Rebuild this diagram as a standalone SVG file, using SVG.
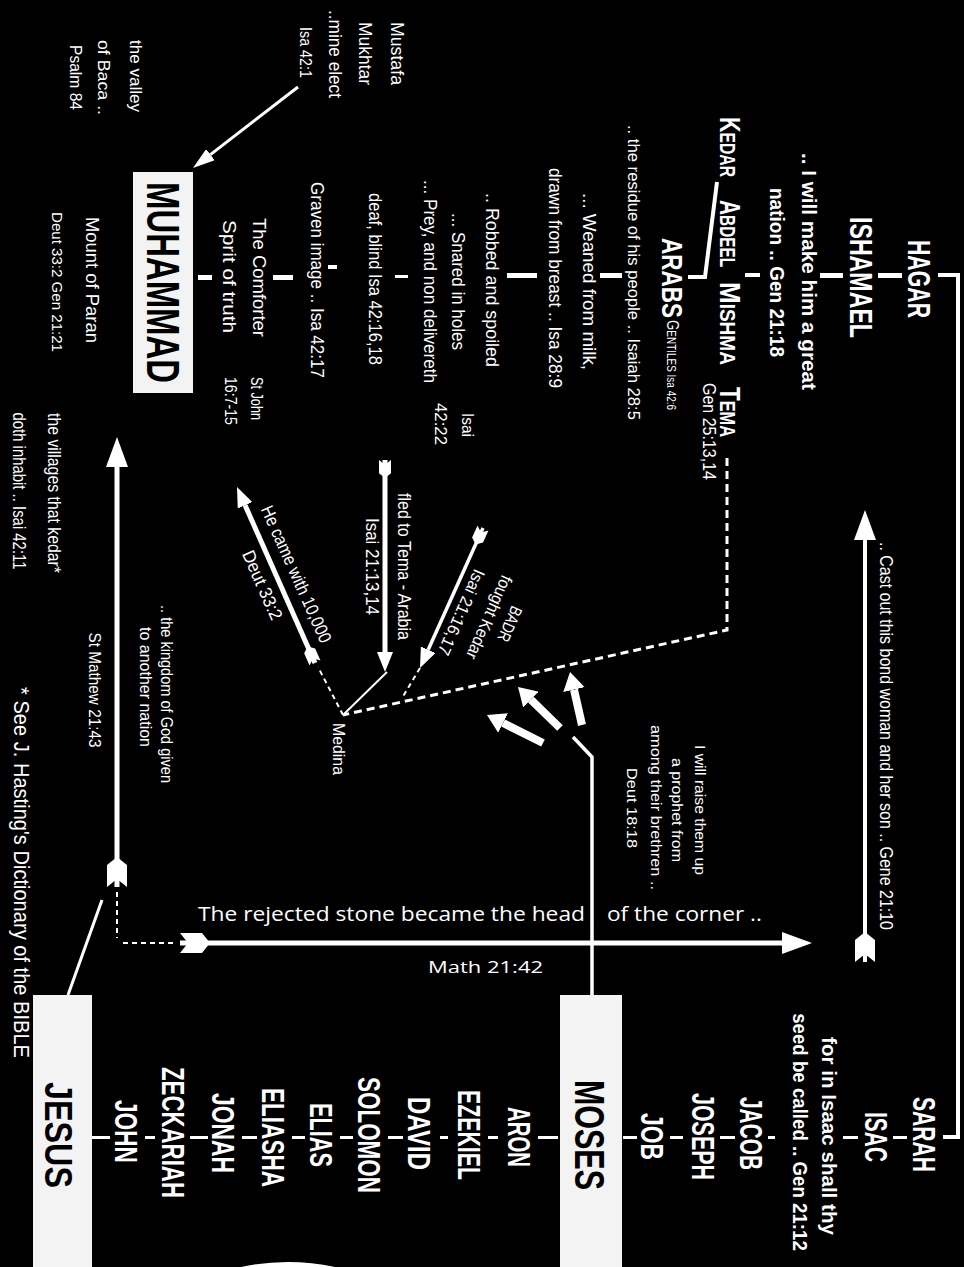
<svg xmlns="http://www.w3.org/2000/svg" width="964" height="1267" viewBox="0 0 964 1267">
<style>
text{font-family:"Liberation Sans",Arial,sans-serif;fill:#fff;text-anchor:middle}
.bd{font-weight:bold}
.nm{font-weight:bold;font-size:32px}
.bx{font-weight:bold;fill:#000}
.hz{font-family:"Open Sans","DejaVu Sans",sans-serif;text-anchor:start}
.ln{stroke:#fff;fill:none}
.dash{stroke:#fff;fill:none;stroke-width:3;stroke-dasharray:8 5}
.dsm{stroke:#fff;fill:none;stroke-width:2;stroke-dasharray:5 4}
.tick{fill:#fff}
.box{fill:#f3f3f3}
</style>
<defs>
<marker id="hb" viewBox="0 0 30 22" refX="0" refY="11" markerWidth="30" markerHeight="22" markerUnits="userSpaceOnUse" orient="auto"><path d="M0,0 L30,11 L0,22 Z" fill="#fff"/></marker>
<marker id="hs" viewBox="0 0 20 16" refX="0" refY="8" markerWidth="20" markerHeight="16" markerUnits="userSpaceOnUse" orient="auto"><path d="M0,0 L20,8 L0,16 Z" fill="#fff"/></marker>
<marker id="hf" viewBox="0 0 18 22" refX="0" refY="11" markerWidth="18" markerHeight="22" markerUnits="userSpaceOnUse" orient="auto"><path d="M0,0 L18,11 L0,22 Z" fill="#fff"/></marker>
<marker id="hm" viewBox="0 0 22 14" refX="0" refY="7" markerWidth="22" markerHeight="14" markerUnits="userSpaceOnUse" orient="auto"><path d="M0,0 L22,7 L0,14 Z" fill="#fff"/></marker>
<marker id="tb" viewBox="0 0 30 20" refX="0" refY="10" markerWidth="30" markerHeight="20" markerUnits="userSpaceOnUse" orient="auto"><path d="M0,0 L22,0 L30,10 L22,20 L0,20 L8,10 Z" fill="#fff"/></marker>
<marker id="ts" viewBox="0 0 30 20" refX="0" refY="10" markerWidth="18" markerHeight="13" markerUnits="userSpaceOnUse" orient="auto"><path d="M0,0 L22,0 L30,10 L22,20 L0,20 L8,10 Z" fill="#fff"/></marker>
</defs>
<rect width="964" height="1267" fill="#000"/>

<g id="connectors">
<path class="ln" stroke-width="4" d="M938,275 H958 V1137 H943"/>
<path class="ln" stroke-width="4" d="M717,182 L705,277 H688"/>
<path class="dash" d="M727,458 V630 L343,715"/>
<path class="dsm" d="M343,715 L318,667"/>
<path class="ln" stroke-width="2" d="M343,715 L387,672"/>
<path class="dsm" d="M420,668 L402,698"/>
<path class="ln" stroke-width="4" marker-start="url(#tb)" marker-end="url(#hb)" d="M865,962 V540"/>
<path class="ln" stroke-width="5" marker-start="url(#tb)" marker-end="url(#hb)" d="M117,887 V467"/>
<path class="ln" stroke-width="5" marker-start="url(#tb)" marker-end="url(#hb)" d="M180,943 H782"/>
<path class="dsm" stroke-width="2.5" d="M117,892 V938"/>
<path class="dsm" stroke-width="2.5" d="M123,943 H176"/>
<path class="ln" stroke-width="5" marker-start="url(#ts)" marker-end="url(#hs)" d="M315,663 L245.1,505.3"/>
<path class="ln" stroke-width="5" marker-start="url(#ts)" marker-end="url(#hs)" d="M385,460 V652"/>
<path class="ln" stroke-width="3.5" marker-start="url(#ts)" marker-end="url(#hs)" d="M483,528 L428.2,649.8"/>
<path class="ln" stroke-width="3" marker-end="url(#hm)" d="M298,87 L210.4,154.6"/>
<path class="ln" stroke-width="8" marker-end="url(#hf)" d="M582,725 L574,689.6"/>
<path class="ln" stroke-width="8" marker-end="url(#hf)" d="M560,728 L530.9,699.6"/>
<path class="ln" stroke-width="8" marker-end="url(#hf)" d="M543,743 L503.1,723"/>
<path class="ln" stroke-width="3.5" d="M573,737 L592,757 V995"/>
<path class="ln" stroke-width="3" d="M68,995 L102,900"/>
<g class="tick">
<rect x="878" y="273" width="24" height="5"/>
<rect x="820" y="273" width="23" height="5"/>
<rect x="745" y="273" width="15" height="4"/>
<rect x="600" y="273" width="22" height="5"/>
<rect x="507" y="273" width="30" height="5"/>
<rect x="395" y="275" width="13" height="3"/>
<rect x="328" y="265" width="9" height="4"/>
<rect x="273" y="275" width="20" height="5"/>
<rect x="198" y="275" width="14" height="5"/>
<rect x="92" y="1136" width="18" height="3"/>
<rect x="145" y="1136" width="10" height="3"/>
<rect x="190" y="1136" width="18" height="3"/>
<rect x="242" y="1136" width="15" height="3"/>
<rect x="292" y="1136" width="13" height="3"/>
<rect x="340" y="1136" width="13" height="3"/>
<rect x="388" y="1136" width="15" height="3"/>
<rect x="440" y="1136" width="8" height="3"/>
<rect x="488" y="1136" width="10" height="3"/>
<rect x="538" y="1136" width="20" height="3"/>
<rect x="623" y="1136" width="14" height="3"/>
<rect x="670" y="1136" width="13" height="3"/>
<rect x="720" y="1136" width="15" height="3"/>
<rect x="768" y="1136" width="7" height="3"/>
<rect x="843" y="1136" width="15" height="3"/>
<rect x="893" y="1136" width="14" height="3"/>
</g>
</g>

<g id="hagar-line">
<text class="bd" x="908" y="279" font-size="31" textLength="78" lengthAdjust="spacingAndGlyphs" transform="rotate(90 908 279)">HAGAR</text>
<text class="bd" x="850" y="277.5" font-size="31" textLength="121" lengthAdjust="spacingAndGlyphs" transform="rotate(90 850 277.5)">ISHAMAEL</text>
<text class="bd" x="802" y="271.5" font-size="21" textLength="237" lengthAdjust="spacingAndGlyphs" transform="rotate(90 802 271.5)">.. I will make him a great</text>
<text class="bd" x="770" y="272.5" font-size="21" textLength="169" lengthAdjust="spacingAndGlyphs" transform="rotate(90 770 272.5)">nation .. Gen 21:18</text>
</g>

<g id="sons">
<text class="bd" x="720" y="147" font-size="22" textLength="60" lengthAdjust="spacingAndGlyphs" transform="rotate(90 720 147)"><tspan font-size="30">K</tspan>EDAR</text>
<text class="bd" x="720" y="233.5" font-size="22" textLength="67" lengthAdjust="spacingAndGlyphs" transform="rotate(90 720 233.5)"><tspan font-size="30">A</tspan>BDEEL</text>
<text class="bd" x="720" y="323.5" font-size="22" textLength="83" lengthAdjust="spacingAndGlyphs" transform="rotate(90 720 323.5)"><tspan font-size="30">M</tspan>ISHMA</text>
<text class="bd" x="720" y="412" font-size="22" textLength="50" lengthAdjust="spacingAndGlyphs" transform="rotate(90 720 412)"><tspan font-size="30">T</tspan>EMA</text>
<text x="703" y="431.5" font-size="19" textLength="97" lengthAdjust="spacingAndGlyphs" transform="rotate(90 703 431.5)">Gen 25:13,14</text>
</g>

<g id="arabs">
<text class="bd" x="662" y="278" font-size="30" textLength="80" lengthAdjust="spacingAndGlyphs" transform="rotate(90 662 278)">ARABS</text>
<text x="667" y="365" font-size="12" textLength="90" lengthAdjust="spacingAndGlyphs" transform="rotate(90 667 365)"><tspan font-size="16">G</tspan>ENTILES Isa 42:6</text>
<text x="628" y="272.5" font-size="17" textLength="295" lengthAdjust="spacingAndGlyphs" transform="rotate(90 628 272.5)">.. the residue of his people .. Isaiah 28:5</text>
<text x="583" y="281.5" font-size="19" textLength="177" lengthAdjust="spacingAndGlyphs" transform="rotate(90 583 281.5)">... Weaned from milk,</text>
<text x="549" y="278" font-size="19" textLength="220" lengthAdjust="spacingAndGlyphs" transform="rotate(90 549 278)">drawn from breast .. Isa 28:9</text>
<text x="486" y="280" font-size="19" textLength="174" lengthAdjust="spacingAndGlyphs" transform="rotate(90 486 280)">.. Robbed and spoiled</text>
<text x="452" y="281.5" font-size="18" textLength="137" lengthAdjust="spacingAndGlyphs" transform="rotate(90 452 281.5)">... Snared in holes</text>
<text x="424" y="281.5" font-size="19" textLength="203" lengthAdjust="spacingAndGlyphs" transform="rotate(90 424 281.5)">... Prey, and non delivereth</text>
<text x="462" y="425" font-size="16" textLength="24" lengthAdjust="spacingAndGlyphs" transform="rotate(90 462 425)">Isai</text>
<text x="435" y="424" font-size="17" textLength="42" lengthAdjust="spacingAndGlyphs" transform="rotate(90 435 424)">42:22</text>
<text x="369" y="279" font-size="19" textLength="172" lengthAdjust="spacingAndGlyphs" transform="rotate(90 369 279)">deaf, blind Isa 42:16,18</text>
<text x="311" y="280" font-size="19" textLength="196" lengthAdjust="spacingAndGlyphs" transform="rotate(90 311 280)">Graven image .. Isa 42:17</text>
<text x="253" y="277.5" font-size="19" textLength="119" lengthAdjust="spacingAndGlyphs" transform="rotate(90 253 277.5)">The Comforter</text>
<text x="223" y="276.5" font-size="19" textLength="113" lengthAdjust="spacingAndGlyphs" transform="rotate(90 223 276.5)">Sprit of truth</text>
<text x="251" y="398.5" font-size="17" textLength="43" lengthAdjust="spacingAndGlyphs" transform="rotate(90 251 398.5)">St John</text>
<text x="225" y="401" font-size="17" textLength="48" lengthAdjust="spacingAndGlyphs" transform="rotate(90 225 401)">16:7-15</text>
</g>

<g id="muhammad">
<rect class="box" x="133" y="172" width="60" height="221"/>
<text class="bx" x="147" y="282.5" font-size="46" textLength="201" lengthAdjust="spacingAndGlyphs" transform="rotate(90 147 282.5)">MUHAMMAD</text>
<text x="86" y="280" font-size="19" textLength="126" lengthAdjust="spacingAndGlyphs" transform="rotate(90 86 280)">Mount of Paran</text>
<text x="52" y="282" font-size="15" textLength="140" lengthAdjust="spacingAndGlyphs" transform="rotate(90 52 282)">Deut 33:2 Gen 21:21</text>
</g>

<g id="mustafa">
<text x="391" y="53.5" font-size="19" textLength="63" lengthAdjust="spacingAndGlyphs" transform="rotate(90 391 53.5)">Mustafa</text>
<text x="359" y="53.5" font-size="19" textLength="63" lengthAdjust="spacingAndGlyphs" transform="rotate(90 359 53.5)">Mukhtar</text>
<text x="329" y="54" font-size="19" textLength="88" lengthAdjust="spacingAndGlyphs" transform="rotate(90 329 54)">..mine elect</text>
<text x="300" y="52.5" font-size="17" textLength="51" lengthAdjust="spacingAndGlyphs" transform="rotate(90 300 52.5)">Isa 42:1</text>
</g>

<g id="baca">
<text x="130" y="76" font-size="17" textLength="72" lengthAdjust="spacingAndGlyphs" transform="rotate(90 130 76)">the valley</text>
<text x="98" y="77.5" font-size="17" textLength="75" lengthAdjust="spacingAndGlyphs" transform="rotate(90 98 77.5)">of Baca ..</text>
<text x="70" y="77.5" font-size="17" textLength="65" lengthAdjust="spacingAndGlyphs" transform="rotate(90 70 77.5)">Psalm 84</text>
</g>

<g id="villages">
<text x="48" y="493" font-size="19" textLength="160" lengthAdjust="spacingAndGlyphs" transform="rotate(90 48 493)">the villages that kedar*</text>
<text x="13" y="491" font-size="19" textLength="157" lengthAdjust="spacingAndGlyphs" transform="rotate(90 13 491)">doth inhabit .. Isai 42:11</text>
</g>

<g id="kingdom">
<text x="161" y="694" font-size="17" textLength="178" lengthAdjust="spacingAndGlyphs" transform="rotate(90 161 694)">.. the kingdom of God given</text>
<text x="140" y="687" font-size="17" textLength="120" lengthAdjust="spacingAndGlyphs" transform="rotate(90 140 687)">to another nation</text>
<text x="89" y="690" font-size="16" textLength="115" lengthAdjust="spacingAndGlyphs" transform="rotate(90 89 690)">St Mathew 21:43</text>
</g>

<g id="note">
<text x="14" y="872.5" font-size="22" textLength="371" lengthAdjust="spacingAndGlyphs" transform="rotate(90 14 872.5)">* See J. Hasting's Dictionary of the BIBLE</text>
</g>

<g id="medina">
<text x="333" y="749" font-size="16" textLength="52" lengthAdjust="spacingAndGlyphs" transform="rotate(90 333 749)">Medina</text>
<text x="290.7" y="576.6" font-size="18" textLength="148" lengthAdjust="spacingAndGlyphs" transform="rotate(66 290.7 576.6)">He came with 10,000</text>
<text x="256.7" y="587.6" font-size="18" textLength="74" lengthAdjust="spacingAndGlyphs" transform="rotate(66 256.7 587.6)">Deut 33:2</text>
<text x="398" y="566.5" font-size="19" textLength="147" lengthAdjust="spacingAndGlyphs" transform="rotate(90 398 566.5)">fled to Tema - Arabia</text>
<text x="366" y="566.5" font-size="19" textLength="97" lengthAdjust="spacingAndGlyphs" transform="rotate(90 366 566.5)">Isai 21:13,14</text>
<text x="504.5" y="621.6" font-size="17" textLength="37" lengthAdjust="spacingAndGlyphs" transform="rotate(114 504.5 621.6)">BADR</text>
<text x="484" y="615" font-size="17" textLength="90" lengthAdjust="spacingAndGlyphs" transform="rotate(114 484 615)">fought Kedar</text>
<text x="456" y="610" font-size="17" textLength="92" lengthAdjust="spacingAndGlyphs" transform="rotate(114 456 610)">Isai 21:16,17</text>
</g>

<g id="castout">
<text x="880" y="736" font-size="18" textLength="388" lengthAdjust="spacingAndGlyphs" transform="rotate(90 880 736)">.. Cast out this bond woman and her son ..  Gene 21:10</text>
</g>

<g id="prophet">
<text x="695" y="810" font-size="15" textLength="130" lengthAdjust="spacingAndGlyphs" transform="rotate(90 695 810)">I will raise them up</text>
<text x="672" y="810" font-size="15" textLength="104" lengthAdjust="spacingAndGlyphs" transform="rotate(90 672 810)">a prophet from</text>
<text x="651" y="807.5" font-size="15" textLength="165" lengthAdjust="spacingAndGlyphs" transform="rotate(90 651 807.5)">among their brethren ..</text>
<text x="627" y="808" font-size="15" textLength="80" lengthAdjust="spacingAndGlyphs" transform="rotate(90 627 808)">Deut 18:18</text>
</g>

<g id="stone">
<text class="hz" x="198" y="921" font-size="20" textLength="387" lengthAdjust="spacingAndGlyphs">The rejected stone became the head</text>
<text class="hz" x="607" y="921" font-size="20" textLength="155" lengthAdjust="spacingAndGlyphs">of the corner ..</text>
<text class="hz" x="428" y="973" font-size="17" textLength="115" lengthAdjust="spacingAndGlyphs">Math 21:42</text>
</g>

<g id="isaac-line">
<text class="nm" x="913" y="1134.5" textLength="75" lengthAdjust="spacingAndGlyphs" transform="rotate(90 913 1134.5)">SARAH</text>
<text class="nm" x="865" y="1137" textLength="50" lengthAdjust="spacingAndGlyphs" transform="rotate(90 865 1137)">ISAC</text>
<text class="bd" x="0" y="0" font-size="21" transform="translate(822 1136) rotate(90) scale(0.98 1)">for in Isaac shall thy</text>
<text class="bd" x="0" y="0" font-size="21" transform="translate(793 1132) rotate(90) scale(0.89 1)">seed be called .. Gen 21:12</text>
<text class="nm" x="740" y="1133.5" textLength="73" lengthAdjust="spacingAndGlyphs" transform="rotate(90 740 1133.5)">JACOB</text>
<text class="nm" x="692" y="1136.5" textLength="87" lengthAdjust="spacingAndGlyphs" transform="rotate(90 692 1136.5)">JOSEPH</text>
<text class="nm" x="641" y="1136.5" textLength="47" lengthAdjust="spacingAndGlyphs" transform="rotate(90 641 1136.5)">JOB</text>
</g>

<g id="moses">
<rect class="box" x="560" y="995" width="62" height="272"/>
<text class="bx" x="575" y="1135" font-size="42" textLength="110" lengthAdjust="spacingAndGlyphs" transform="rotate(90 575 1135)">MOSES</text>
</g>

<g id="prophets">
<text class="nm" x="508" y="1137" textLength="60" lengthAdjust="spacingAndGlyphs" transform="rotate(90 508 1137)">ARON</text>
<text class="nm" x="458" y="1135" textLength="90" lengthAdjust="spacingAndGlyphs" transform="rotate(90 458 1135)">EZEKIEL</text>
<text class="nm" x="408" y="1133.5" textLength="73" lengthAdjust="spacingAndGlyphs" transform="rotate(90 408 1133.5)">DAVID</text>
<text class="nm" x="358" y="1135" textLength="116" lengthAdjust="spacingAndGlyphs" transform="rotate(90 358 1135)">SOLOMON</text>
<text class="nm" x="310" y="1135" textLength="64" lengthAdjust="spacingAndGlyphs" transform="rotate(90 310 1135)">ELIAS</text>
<text class="nm" x="262" y="1137.5" textLength="99" lengthAdjust="spacingAndGlyphs" transform="rotate(90 262 1137.5)">ELIASHA</text>
<text class="nm" x="212" y="1133" textLength="80" lengthAdjust="spacingAndGlyphs" transform="rotate(90 212 1133)">JONAH</text>
<text class="nm" x="162" y="1132.5" textLength="131" lengthAdjust="spacingAndGlyphs" transform="rotate(90 162 1132.5)">ZECKARIAH</text>
<text class="nm" x="115" y="1131.5" textLength="63" lengthAdjust="spacingAndGlyphs" transform="rotate(90 115 1131.5)">JOHN</text>
</g>

<g id="jesus">
<rect class="box" x="33" y="995" width="59" height="272"/>
<text class="bx" x="45" y="1135" font-size="38" textLength="106" lengthAdjust="spacingAndGlyphs" transform="rotate(90 45 1135)">JESUS</text>
</g>

<path d="M241,1267 Q288,1257 335,1267 Z" fill="#fff"/>
</svg>
